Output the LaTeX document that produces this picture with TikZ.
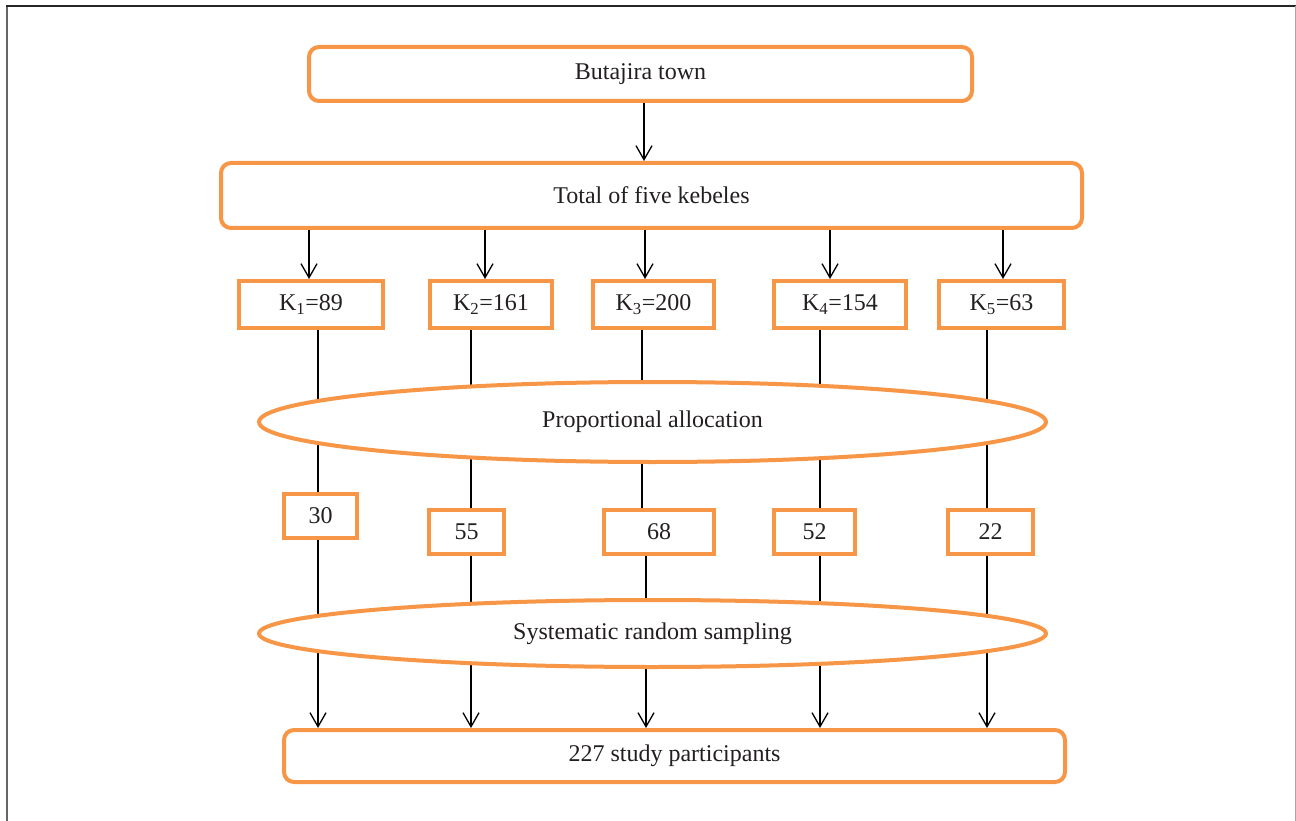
\documentclass[tikz,border=0pt]{standalone}
\usepackage{fontspec}
\setmainfont{Liberation Serif}
\usetikzlibrary{shapes.geometric,arrows.meta}
\definecolor{boxorange}{HTML}{F79646}
\definecolor{txt}{HTML}{231F20}
\pgfdeclarelayer{background}
\pgfsetlayers{background,main}
\begin{document}
\begin{tikzpicture}[x=1pt,y=-1pt,
  every node/.style={font=\fontsize{24}{28}\selectfont, text=txt},
  rbox/.style={draw=boxorange, line width=4pt, rounded corners=10pt, inner sep=0pt},
  sbox/.style={draw=boxorange, line width=4pt, inner sep=0pt},
  oval/.style={draw=boxorange, line width=4pt, ellipse, fill=white, inner sep=0pt, minimum width=787pt},
  conn/.style={draw=black, line width=1.3pt},
  arr/.style={conn, -{Straight Barb[length=14pt,width=16pt]}},
  framel/.style={line width=2pt, draw=black!60},
  framet/.style={line width=1.2pt, draw=black!85},
  framer/.style={line width=1pt, draw=black!35}
]
\useasboundingbox (0,0) rectangle (1296,821);
% frame
\draw[framel] (7,821) -- (7,6);
\draw[framet] (6,6) -- (1296,6);
\draw[framer] (1295,6) -- (1295,821);

% nodes
\node[rbox, minimum width=663pt, minimum height=54pt] (town) at (640.5,74) {Butajira town};
\node[rbox, minimum width=861pt, minimum height=65pt] (total) at (651.5,195.5) {Total of five kebeles};

\node[sbox, minimum width=144pt, minimum height=47pt] (k1) at (311,304.5) {K\textsubscript{1}=89};
\node[sbox, minimum width=122pt, minimum height=47pt] (k2) at (491,304.5) {K\textsubscript{2}=161};
\node[sbox, minimum width=121pt, minimum height=47pt] (k3) at (653.5,304.5) {K\textsubscript{3}=200};
\node[sbox, minimum width=132pt, minimum height=47pt] (k4) at (840,304.5) {K\textsubscript{4}=154};
\node[sbox, minimum width=125pt, minimum height=47pt] (k5) at (1001.5,304.5) {K\textsubscript{5}=63};

\node[oval, minimum height=80pt] (prop) at (652.5,422) {Proportional allocation};

\node[sbox, minimum width=73pt, minimum height=44pt] (n1) at (320.5,516) {30};
\node[sbox, minimum width=75pt, minimum height=44pt] (n2) at (466.5,532) {55};
\node[sbox, minimum width=110pt, minimum height=44pt] (n3) at (659,532) {68};
\node[sbox, minimum width=81pt, minimum height=44pt] (n4) at (814.5,532) {52};
\node[sbox, minimum width=85pt, minimum height=44pt] (n5) at (990.5,532) {22};

\node[oval, minimum height=67pt] (sys) at (652.5,633.5) {Systematic random sampling};

\node[rbox, minimum width=781pt, minimum height=52pt] (final) at (674.5,756) {227 study participants};

% column coordinates
\coordinate (t0) at (644,0);
\coordinate (a1) at (309,0);
\coordinate (a2) at (485,0);
\coordinate (a3) at (645,0);
\coordinate (a4) at (830,0);
\coordinate (a5) at (1003,0);
\coordinate (c1) at (318,0);
\coordinate (c2) at (471,0);
\coordinate (c3) at (642,0);
\coordinate (c4) at (820,0);
\coordinate (c5) at (987,0);
\coordinate (d1) at (318,0);
\coordinate (d2) at (471,0);
\coordinate (d3) at (646,0);
\coordinate (d4) at (820,0);
\coordinate (d5) at (987,0);

% arrows on top
\draw[arr] (town.south -| t0) -- (total.north -| t0);
\foreach \i in {1,...,5}{
  \draw[arr] (total.south -| a\i) -- (k\i.north -| a\i);
}

% connectors passing behind the ovals
\begin{pgfonlayer}{background}
\foreach \i in {1,...,5}{
  \draw[conn] (k\i.south -| c\i) -- (n\i.north -| c\i);
  \draw[arr] (n\i.south -| d\i) -- (final.north -| d\i);
}
\end{pgfonlayer}
\end{tikzpicture}
\end{document}
